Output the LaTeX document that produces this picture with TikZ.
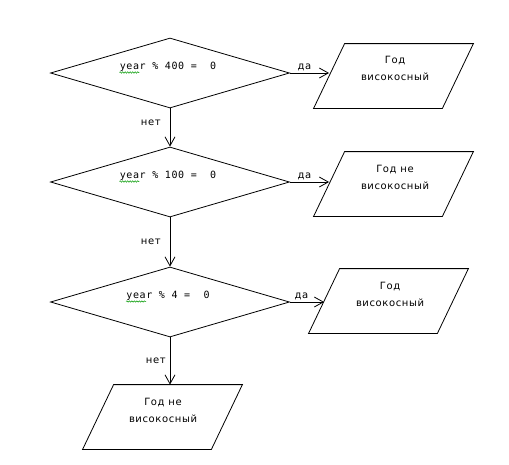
\documentclass[tikz,border=0pt]{standalone}
\usepackage{fontspec}
\setmainfont{DejaVu Sans}[LetterSpace=6]
\newfontfamily\condfont{DejaVu Sans Mono}[LetterSpace=6]
\usetikzlibrary{shapes.geometric,arrows.meta,decorations.pathmorphing}
\begin{document}
\begin{tikzpicture}[x=1pt,y=-1pt,
  line width=0.8pt,
  cond/.style={draw,diamond,aspect=3.4,inner sep=0pt,minimum width=239pt,minimum height=70pt},
  io/.style={rectangle,inner sep=0pt,minimum width=159pt,minimum height=64pt},
  para/.style={draw},
  txt/.style={font=\fontsize{10}{16.5}\selectfont,align=center,inner sep=0pt},
  ctxt/.style={font=\condfont\fontsize{10}{12}\selectfont,inner sep=0pt},
  lbl/.style={font=\fontsize{10}{12}\selectfont,inner sep=0pt},
  arr/.style={-{Straight Barb[length=9pt,width=10pt]}},
  spell/.style={draw=green!60!black,line width=0.5pt,decorate,decoration={snake,amplitude=0.7pt,segment length=2.5pt}}]
\useasboundingbox (0,0) rectangle (509,464);

\node[cond] (d1) at (170,73) {};
\node[cond] (d2) at (170,182) {};
\node[cond] (d3) at (170,302) {};

\node[io] (p1) at (393.5,76) {};
\node[io] (p2) at (393.5,184) {};
\node[io] (p3) at (388.5,301) {};
\node[io] (p4) at (162.5,417) {};
\foreach \p in {p1,p2,p3,p4}{
  \draw[para] ([xshift=31pt]\p.north west) -- (\p.north east) -- ([xshift=-31pt]\p.south east) -- (\p.south west) -- cycle;
  \coordinate (\p l) at ([xshift=15.5pt]\p.west);
}

\node[ctxt] (t1) at (168,67) {year \% 400 =~~0};
\node[ctxt] (t2) at (168,176) {year \% 100 =~~0};
\node[ctxt] (t3) at (168,296) {year \% 4 =~~0};
\draw[spell] ([yshift=-5.5pt]t1.west) -- ++(20,0);
\draw[spell] ([yshift=-5.5pt]t2.west) -- ++(20,0);
\draw[spell] ([yshift=-5.5pt]t3.west) -- ++(20,0);

\node[txt] (q1) at (395,68.5) {Год\\високосный};
\node[txt] (q2) at (395,177.5) {Год не\\високосный};
\node[txt] (q3) at (390,294.5) {Год\\високосный};
\node[txt] (q4) at (163,410.5) {Год не\\високосный};

\draw[arr] (d1.east) -- (d1.east -| p1l) node[lbl,pos=0.37,above=2pt] {да};
\draw[arr] (d2.east) -- (d2.east -| p2l) node[lbl,pos=0.37,above=2pt] {да};
\draw[arr] (d3.east) -- (d3.east -| p3l) node[lbl,pos=0.34,above=2pt] {да};

\draw[arr] (d1.south) -- (d2.north) node[lbl,pos=0.37,left=9pt] {нет};
\draw[arr] (d2.south) -- (d3.north) node[lbl,pos=0.5,left=9pt] {нет};
\draw[arr] (d3.south) -- (p4.north -| d3.south) node[lbl,pos=0.5,left=4pt] {нет};
\end{tikzpicture}
\end{document}
